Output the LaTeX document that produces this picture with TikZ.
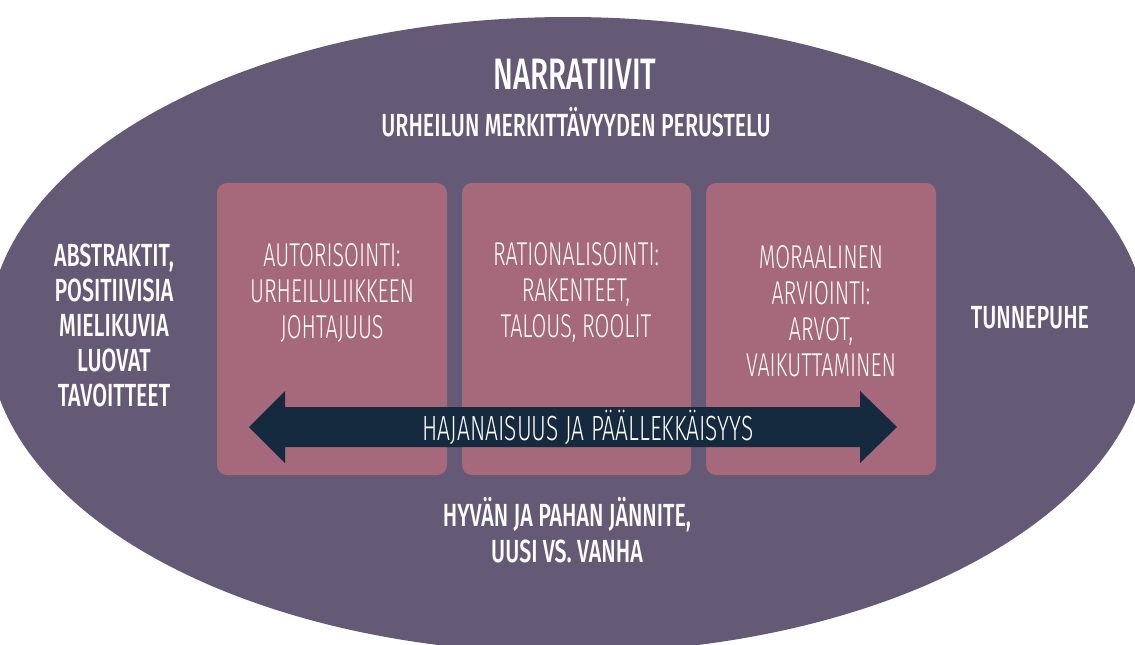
\documentclass[tikz,border=0pt]{standalone}
\usepackage{fontspec}
\setmainfont{Fira Sans}
\newfontfamily\headfont[FakeStretch=0.67]{Fira Sans Medium}
\newfontfamily\thinfont[FakeStretch=0.65]{Fira Sans Light}
\definecolor{ovalc}{HTML}{655A76}
\definecolor{boxc}{HTML}{A6687B}
\definecolor{arrowc}{HTML}{15293F}
\tikzset{
  panel/.style={fill=boxc, rounded corners=10pt},
  head/.style={text=white, align=center, font=\headfont},
  paneltext/.style={text=white, align=center, font=\thinfont\fontsize{33}{36}\selectfont},
}
\begin{document}
\begin{tikzpicture}[x=1pt,y=-1pt]
\useasboundingbox (0,0) rectangle (1135,645);
\begin{scope}
  \clip (0,0) rectangle (1135,645);
  \fill[ovalc] (568,335) ellipse [x radius=580, y radius=318];
\end{scope}

% three panels
\fill[panel] (217,183) rectangle (447,475);
\fill[panel] (462,183) rectangle (691,475);
\fill[panel] (706,183) rectangle (936,475);

% double-headed arrow
\fill[arrowc] (249,427) -- (285,391) -- (285,407) -- (860,407) -- (860,391)
  -- (897,427) -- (860,463) -- (860,447) -- (285,447) -- (285,463) -- cycle;

\node[head, font=\headfont\fontsize{44}{48}\selectfont] (title) at (575,74) {NARRATIIVIT};
\node[head, font=\headfont\fontsize{32}{36}\selectfont] (sub) at (576,122) {URHEILUN MERKITTÄVYYDEN PERUSTELU};
\node[head, font=\headfont\fontsize{32}{35}\selectfont] (left) at (114,325)
  {ABSTRAKTIT,\\POSITIIVISIA\\MIELIKUVIA\\LUOVAT\\TAVOITTEET};
\node[head, font=\headfont\fontsize{32}{35}\selectfont] (right) at (1030,318) {TUNNEPUHE};
\node[head, font=\headfont\fontsize{32}{36}\selectfont] (bottom) at (567,530)
  {HYVÄN JA PAHAN JÄNNITE,\\UUSI VS. VANHA};

\node[paneltext] (p1) at (332,293) {AUTORISOINTI:\\URHEILULIIKKEEN\\JOHTAJUUS};
\node[paneltext] (p2) at (576,293) {RATIONALISOINTI:\\RAKENTEET,\\TALOUS, ROOLIT};
\node[paneltext] (p3) at (821,311) {MORAALINEN\\ARVIOINTI:\\ARVOT,\\VAIKUTTAMINEN};

\node[paneltext, font=\thinfont\fontsize{35}{38}\selectfont] (arr) at (588,427) {HAJANAISUUS JA PÄÄLLEKKÄISYYS};
\end{tikzpicture}
\end{document}
